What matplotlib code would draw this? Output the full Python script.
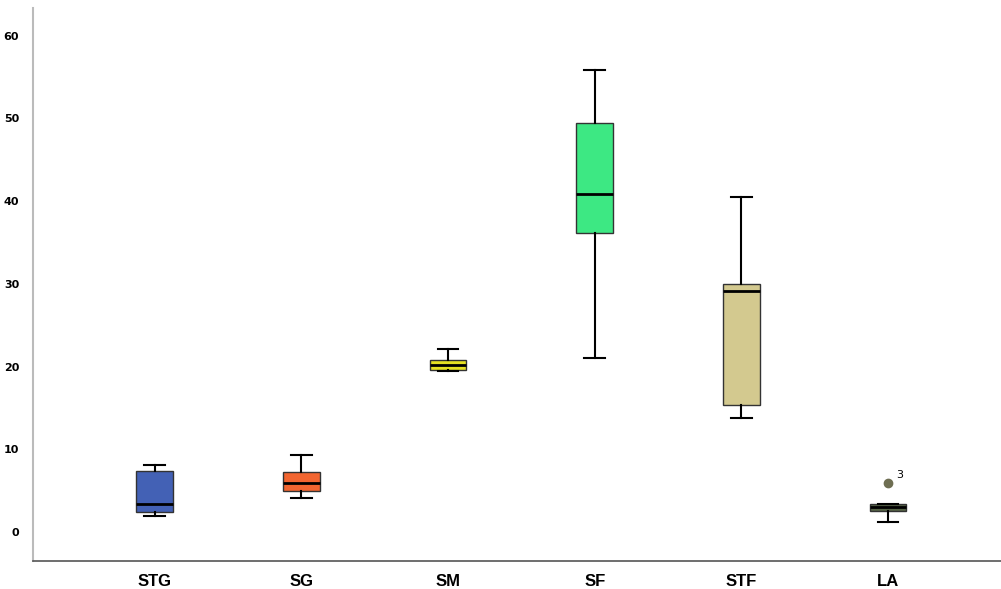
import matplotlib
matplotlib.use("Agg")
import matplotlib.pyplot as plt

# Grupper och femtalssammanfattning
groups = ["STG", "SG", "SM", "SF", "STF", "LA"]
whisker_low = [1.9, 4.1, 19.5, 21.0, 13.8, 1.2]
q1 = [2.4, 5.0, 19.6, 36.2, 15.3, 2.5]
medians = [3.4, 5.9, 20.2, 40.8, 29.1, 3.0]
q3 = [7.4, 7.2, 20.8, 49.4, 30.0, 3.4]
whisker_high = [8.1, 9.3, 22.1, 55.8, 40.5, 3.4]
outliers = [[], [], [], [], [], [5.9]]
outlier_labels = {5: "3"}

colors = ["#4361B5", "#F26530", "#E6E022", "#3DE883", "#D3C98F", "#566446"]

stats = []
for i, g in enumerate(groups):
    stats.append({
        "label": g, "med": medians[i], "q1": q1[i], "q3": q3[i],
        "whislo": whisker_low[i], "whishi": whisker_high[i], "fliers": outliers[i],
    })

fig = plt.figure(figsize=(10.01, 5.89), dpi=100)
ax = fig.add_axes([0.033, 0.0475, 0.967, 0.9385])

bp = ax.bxp(
    stats, positions=range(len(groups)), widths=0.25, patch_artist=True,
    boxprops=dict(edgecolor="#333333", linewidth=1.0),
    medianprops=dict(color="black", linewidth=2.0),
    whiskerprops=dict(color="black", linewidth=1.5),
    capprops=dict(color="black", linewidth=1.5),
    capwidths=0.14,
    flierprops=dict(marker="o", markerfacecolor="#6E6E52", markeredgecolor="#6E6E52",
                    markersize=6),
)
for patch, c in zip(bp["boxes"], colors):
    patch.set_facecolor(c)

for i, lab in outlier_labels.items():
    for v in outliers[i]:
        ax.annotate(lab, (i, v), xytext=(6, 4), textcoords="offset points",
                    fontsize=8, color="black")

ax.set_xlim(-0.83, 5.77)
ax.set_ylim(-3.5, 63.3)
ax.set_yticks([0, 10, 20, 30, 40, 50, 60])
ax.tick_params(axis="both", length=0)
ax.tick_params(axis="y", labelsize=8, pad=10)
ax.tick_params(axis="x", pad=9)
for t in ax.get_yticklabels():
    t.set_fontweight("bold")
for t in ax.get_xticklabels():
    t.set_fontweight("bold")
    t.set_fontsize(12)
    t.set_family("Liberation Sans")

ax.spines["top"].set_visible(False)
ax.spines["right"].set_visible(False)
ax.spines["left"].set_color("#BBBBBB")
ax.spines["left"].set_linewidth(1.5)
ax.spines["bottom"].set_color("#555555")
ax.spines["bottom"].set_linewidth(1.2)

fig.savefig("out.png", dpi=100)
